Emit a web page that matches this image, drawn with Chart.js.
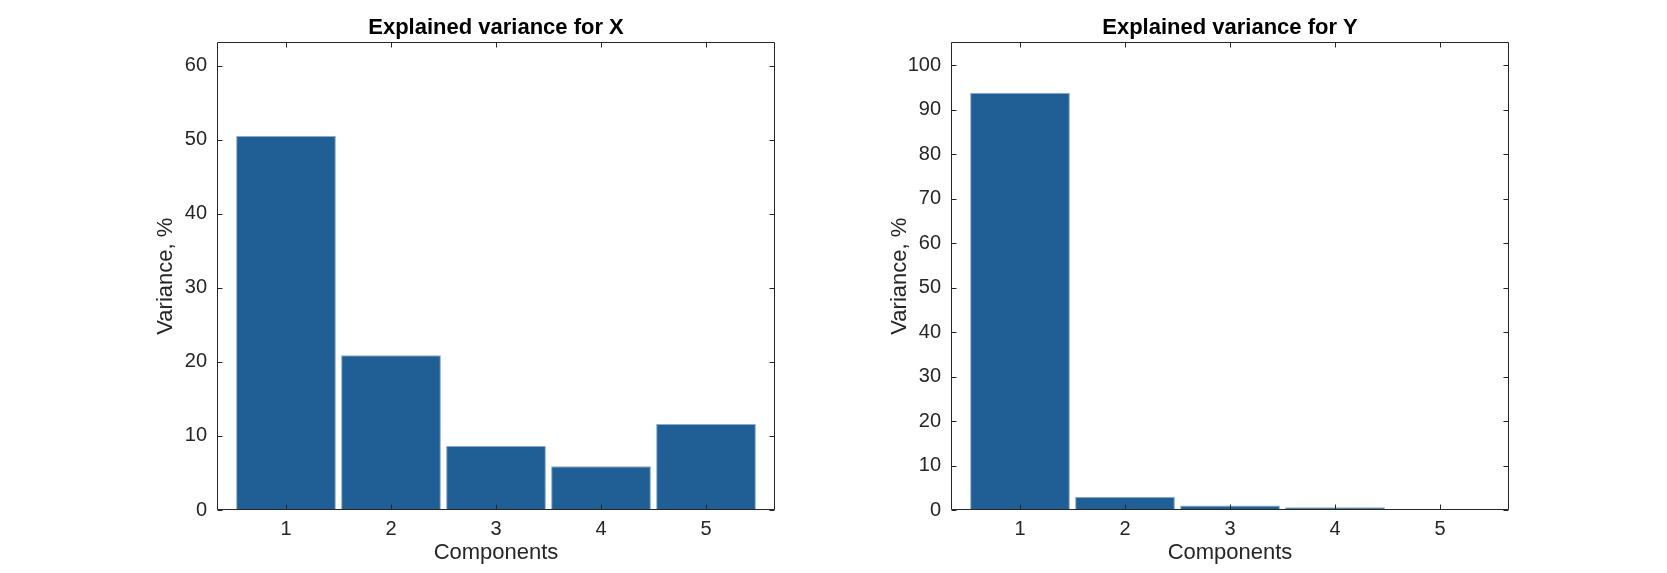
<!DOCTYPE html>
<html>
<head>
<meta charset="utf-8">
<script src="https://cdn.jsdelivr.net/npm/chart.js@4/dist/chart.umd.min.js"></script>
<style>
  html, body { margin: 0; padding: 0; background: #fff; }
  #wrap { position: relative; width: 1667px; height: 573px; }
  canvas { position: absolute; top: 0; }
</style>
</head>
<body>
<div id="wrap">
  <canvas id="left" width="834" height="573" style="left:0"></canvas>
  <canvas id="right" width="833" height="573" style="left:834px"></canvas>
</div>
<script>
// data
const components = [1, 2, 3, 4, 5];
const varianceX = [50.5, 20.9, 8.65, 5.9, 11.6];
const varianceY = [93.8, 3.0, 1.0, 0.6, 0.25];
const yMaxX = 63.15;
const yMaxY = 105.1;
const xMin = 0.343, xMax = 5.657;

const FONT = "'Liberation Sans', Arial, Helvetica, sans-serif";
const INK = '#262626';

// MATLAB-style box with ticks pointing inward
const frame = {
  id: 'frame',
  afterDraw(chart) {
    const { ctx, chartArea: a, scales: { x, y } } = chart;
    const L = Math.round(a.left) + 0.5, R = Math.round(a.right) - 0.5;
    const T = Math.round(a.top) + 0.5, B = Math.round(a.bottom) - 0.5;
    ctx.save();
    ctx.strokeStyle = INK;
    ctx.lineWidth = 1;
    ctx.beginPath();
    ctx.rect(L, T, R - L, B - T);
    x.ticks.forEach(t => {
      const px = Math.round(x.getPixelForValue(t.value)) + 0.5;
      ctx.moveTo(px, B); ctx.lineTo(px, B - 5);
      ctx.moveTo(px, T); ctx.lineTo(px, T + 5);
    });
    y.ticks.forEach(t => {
      const py = Math.round(y.getPixelForValue(t.value)) + 0.5;
      ctx.moveTo(L, py); ctx.lineTo(L + 5, py);
      ctx.moveTo(R, py); ctx.lineTo(R - 5, py);
    });
    ctx.stroke();
    ctx.restore();
  }
};

function makeChart(id, title, values, yMax, yAxisWidth, rightPad, yTitlePad) {
  return new Chart(document.getElementById(id), {
    type: 'bar',
    data: {
      datasets: [{
        data: components.map((c, i) => ({ x: c, y: values[i] })),
        backgroundColor: '#1f5f95',
        borderColor: '#8aaccc',
        borderWidth: 1,
        barPercentage: 0.95,
        categoryPercentage: 1
      }]
    },
    options: {
      responsive: false,
      animation: false,
      devicePixelRatio: 1,
      layout: { padding: { left: 0, right: rightPad, top: 0, bottom: 0 } },
      plugins: {
        legend: { display: false },
        tooltip: { enabled: false },
        title: {
          display: true,
          text: title,
          fullSize: false,
          color: '#000',
          font: { family: FONT, size: 22, weight: 'bold' },
          padding: { top: 15, bottom: 1 }
        }
      },
      scales: {
        x: {
          type: 'linear',
          min: xMin,
          max: xMax,
          offset: false,
          grid: { display: false, drawTicks: false },
          border: { display: false },
          ticks: {
            stepSize: 1,
            includeBounds: false,
            padding: 7,
            color: INK,
            font: { family: FONT, size: 20 },
            maxRotation: 0
          },
          title: {
            display: true,
            text: 'Components',
            color: INK,
            font: { family: FONT, size: 22 },
            padding: { top: 0, bottom: 7 }
          },
          afterFit(s) { s.height = 63; }
        },
        y: {
          min: 0,
          max: yMax,
          grid: { display: false, drawTicks: false },
          border: { display: false },
          ticks: {
            stepSize: 10,
            includeBounds: false,
            padding: 10,
            color: INK,
            font: { family: FONT, size: 20 }
          },
          title: {
            display: true,
            text: 'Variance, %',
            color: INK,
            font: { family: FONT, size: 22 },
            padding: { top: yTitlePad, bottom: 0 }
          },
          afterFit(s) { s.width = yAxisWidth; }
        }
      }
    },
    plugins: [frame]
  });
}

makeChart('left', 'Explained variance for X', varianceX, yMaxX, 217, 59, 152.5);
makeChart('right', 'Explained variance for Y', varianceY, yMaxY, 117, 158, 52.5);
</script>
</body>
</html>
